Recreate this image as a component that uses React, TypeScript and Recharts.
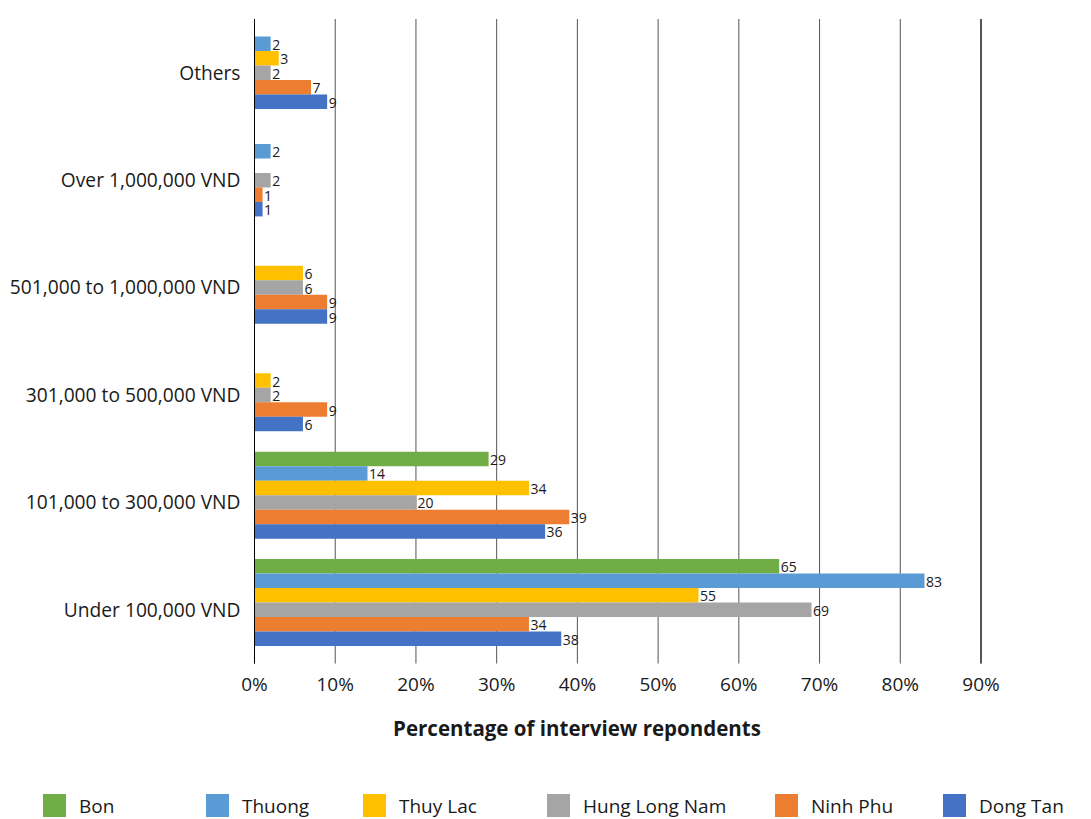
import React from 'react';
import { BarChart, Bar, XAxis, YAxis, CartesianGrid, ReferenceLine, LabelList, Label } from 'recharts';

const categories = [
  'Others',
  'Over 1,000,000 VND',
  '501,000 to 1,000,000 VND',
  '301,000 to 500,000 VND',
  '101,000 to 300,000 VND',
  'Under 100,000 VND',
];

const bon = [null, null, null, null, 29, 65];
const thuong = [2, 2, null, null, 14, 83];
const thuyLac = [3, null, 6, 2, 34, 55];
const hungLongNam = [2, 2, 6, 2, 20, 69];
const ninhPhu = [7, 1, 9, 9, 39, 34];
const dongTan = [9, 1, 9, 6, 36, 38];

const xTicks = [0, 10, 20, 30, 40, 50, 60, 70, 80, 90];

const seriesNames = ['Bon', 'Thuong', 'Thuy Lac', 'Hung Long Nam', 'Ninh Phu', 'Dong Tan'];
const seriesKeys = ['bon', 'thuong', 'thuyLac', 'hungLongNam', 'ninhPhu', 'dongTan'];
const seriesColors = ['#70AD47', '#5B9BD5', '#FFC000', '#A5A5A5', '#ED7D31', '#4472C4'];
const seriesValues = [bon, thuong, thuyLac, hungLongNam, ninhPhu, dongTan];

const legendLeft = [43, 206, 363, 547, 775, 943];

const data = categories.map((c, i) => {
  const row: any = { category: c, spacer: null };
  seriesKeys.forEach((k, j) => {
    row[k] = seriesValues[j][i];
  });
  return row;
});

const FONT = '"Open Sans", "Noto Sans", sans-serif';
const TEXT = '#1a1a1a';

const renderValueLabel = (props: any) => {
  const { x, y, width, height, value } = props;
  if (value === null || value === undefined) return null;
  return (
    <text
      x={Number(x) + Number(width) + 1.5}
      y={Number(y) + Number(height) / 2 + 0.5}
      fontSize={14}
      fontFamily={FONT}
      fill={TEXT}
      dominantBaseline="central"
      textAnchor="start"
    >
      {value}
    </text>
  );
};

const renderTitle = (props: any) => {
  const vb = props.viewBox || {};
  return (
    <text
      x={577}
      y={vb.y + 72}
      textAnchor="middle"
      fontSize={20.5}
      fontWeight={700}
      fontFamily={FONT}
      fill={TEXT}
    >
      Percentage of interview repondents
    </text>
  );
};

export default function App() {
  return (
    <div style={{ position: 'absolute', left: 0, top: 0, width: 1091, height: 819, background: '#fff' }}>
      <BarChart
        width={1091}
        height={819}
        data={data}
        layout="vertical"
        margin={{ top: 19, right: 110, bottom: 115.5, left: 0 }}
        barCategoryGap={3}
        barGap={0}
        barSize={14.5}
      >
        <CartesianGrid horizontal={false} stroke="#555" strokeWidth={1} />
        <XAxis
          type="number"
          domain={[0, 90]}
          ticks={xTicks}
          tickFormatter={(v: number) => `${v}%`}
          axisLine={false}
          tickLine={false}
          tickSize={0}
          tickMargin={14.5}
          height={40}
          interval={0}
          tick={{ fontSize: 19, fontFamily: FONT, fill: TEXT }}
        >
          <Label content={renderTitle} />
        </XAxis>
        <YAxis
          type="category"
          dataKey="category"
          width={254.5}
          axisLine={false}
          tickLine={false}
          tickSize={0}
          tickMargin={14}
          interval={0}
          tick={{ fontSize: 19.2, fontFamily: FONT, fill: TEXT }}
        />
        <ReferenceLine x={0} stroke="#000" strokeWidth={1} />
        <ReferenceLine x={90} stroke="#000" strokeWidth={1} />
        {seriesKeys.map((k, j) => (
          <Bar key={k} dataKey={k} name={seriesNames[j]} fill={seriesColors[j]} isAnimationActive={false}>
            <LabelList dataKey={k} content={renderValueLabel} />
          </Bar>
        ))}
        <Bar dataKey="spacer" fill="none" legendType="none" isAnimationActive={false} />
      </BarChart>
      {seriesNames.map((n, j) => (
        <div
          key={n}
          style={{
            position: 'absolute',
            left: legendLeft[j],
            top: 794,
            height: 23,
            display: 'flex',
            alignItems: 'center',
            fontFamily: FONT,
            fontSize: 19,
            color: TEXT,
            whiteSpace: 'nowrap',
          }}
        >
          <span style={{ display: 'inline-block', width: 23, height: 23, background: seriesColors[j], marginRight: 13 }} />
          <span>{n}</span>
        </div>
      ))}
    </div>
  );
}
